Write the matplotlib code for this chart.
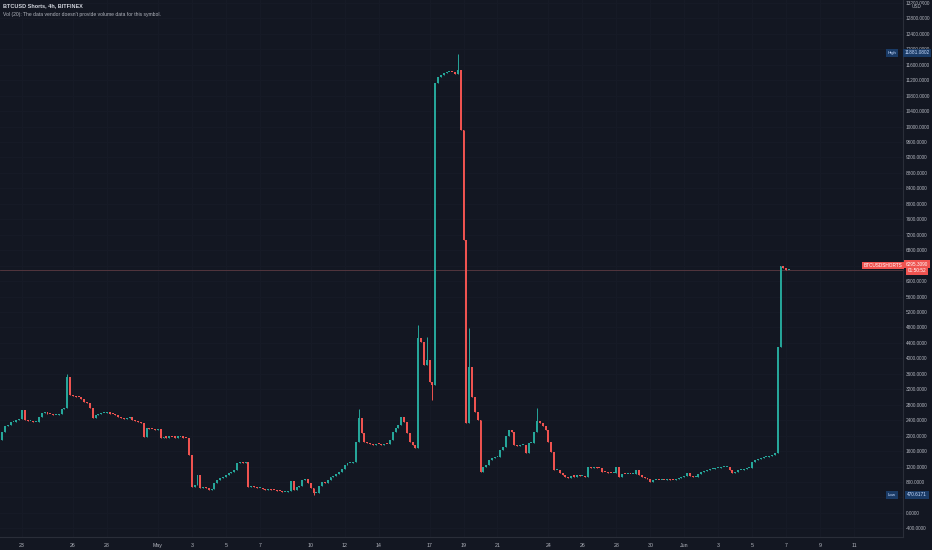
import matplotlib
matplotlib.use('Agg')
import matplotlib.pyplot as plt
import numpy as np

# ---------------- data (4h candles, BTCUSD Shorts) ----------------
# first candle: Apr 21 20:00 ; then 6 candles per day
first_open = 1890
closes = [
    2090,                                   # Apr 21 20:00
    2240, 2280, 2340, 2340, 2407, 2420,     # Apr 22
    2663, 2407, 2380, 2380, 2340, 2360,     # Apr 23
    2485, 2588, 2600, 2570, 2560, 2530,     # Apr 24
    2530, 2560, 2690, 2715, 3517, 3050,     # Apr 25
    3030, 3010, 2990, 2950, 2870, 2840,     # Apr 26
    2715, 2458, 2536, 2560, 2588, 2588,     # Apr 27
    2600, 2570, 2560, 2540, 2485, 2460,     # Apr 28
    2440, 2460, 2470, 2407, 2380, 2350,     # Apr 29
    2330, 1967, 2200, 2170, 2160, 2150,     # Apr 30
    2160, 1940, 1960, 1950, 1970, 1960,     # May 1
    1950, 1960, 1970, 1950, 1940, 1500,     # May 2
    674, 720, 984, 648, 674, 640,           # May 3
    600, 620, 780, 855, 905, 930,           # May 4
    984, 1020, 1060, 1100, 1295, 1320,      # May 5
    1300, 1320, 674, 700, 670, 640,         # May 6
    650, 620, 600, 620, 600, 580,           # May 7
    570, 560, 544, 544, 560, 826,           # May 8
    596, 674, 700, 855, 880, 777,           # May 9
    648, 518, 518, 700, 803, 780,           # May 10
    855, 930, 960, 1010, 1060, 1140,        # May 11
    1240, 1295, 1295, 1320, 1837, 2458,     # May 12
    2070, 1840, 1800, 1780, 1760, 1790,     # May 13
    1770, 1760, 1790, 1770, 1890, 2100,     # May 14
    2200, 2280, 2490, 2350, 2070, 1840,     # May 15
    1760, 1680, 4530, 4430, 3830, 3960,     # May 16
    3390, 3320, 11130, 11270, 11320, 11380, # May 17
    11400, 11420, 11400, 11360, 11460, 9910,  # May 18
    7060, 2330, 3780, 3000, 2620, 2410,     # May 19
    1060, 1190, 1250, 1370, 1425, 1450,     # May 20
    1450, 1630, 1710, 2000, 2150, 2100,     # May 21
    1760, 1740, 1750, 1760, 1550, 1810,     # May 22
    1810, 2100, 2380, 2330, 2250, 2150,     # May 23
    1840, 1580, 1110, 1110, 1040, 990,      # May 24
    930, 905, 960, 940, 985, 950,           # May 25
    960, 930, 1190, 1170, 1180, 1165,       # May 26
    1160, 1060, 1050, 1040, 1030, 1040,     # May 27
    1190, 930, 1010, 1000, 1010, 1000,      # May 28
    1010, 1110, 984, 920, 906, 880,         # May 29
    803, 850, 855, 840, 860, 850,           # May 30
    880, 855, 850, 870, 900, 930,           # May 31
    960, 1040, 960, 930, 940, 1000,         # Jun 1
    1060, 1080, 1110, 1130, 1140, 1150,     # Jun 2
    1160, 1180, 1190, 1190, 1113, 1035,     # Jun 3
    1060, 1110, 1110, 1140, 1165, 1165,     # Jun 4
    1320, 1370, 1390, 1420, 1440, 1450,     # Jun 5
    1480, 1500, 1550, 4300, 6400, 6350,     # Jun 6
    6290, 6295.309,                         # Jun 7
]
# notable wicks (candle index -> value)
wick_high_idx = [23, 126, 147, 150, 161, 165, 189]
wick_high_val = [3600, 2700, 4870, 4550, 11881.0802, 4790, 2720]
wick_low_idx = [110, 152]
wick_low_val = [470.6171, 2930]

# time axis labels (days after Apr 23)
x_tick_days = [0, 3, 5, 8, 10, 12, 14, 17, 19, 21, 24, 26, 28, 31, 33, 35,
               37, 39, 41, 43, 45, 47, 49]
x_tick_labels = ['23', '26', '28', 'May', '3', '5', '7', '10', '12', '14',
                 '17', '19', '21', '24', '26', '28', '30', 'Jun', '3', '5',
                 '7', '9', '11']

# price scale ticks hidden behind the last-price and low labels
hidden_price_ticks = [6400, 400]

last_price = 6295.309
high_val = 11881.0802
low_val = 470.6171

# ---------------- style ----------------
BG = '#131722'
UP = '#26a69a'
DOWN = '#ef5350'
TXT = '#b2b5be'
GRID = '#171b27'
plt.rcParams['font.family'] = ['Liberation Sans', 'DejaVu Sans']

W, H = 932, 550
fig = plt.figure(figsize=(W / 100, H / 100), dpi=100, facecolor=BG)
ax = fig.add_axes([0, 13 / H, 903 / W, 1 - 13 / H], facecolor=BG)

closes_a = np.array(closes, dtype=float)
n = len(closes_a)
t = -7 / 6 + np.arange(n) / 6.0
opens = np.r_[first_open, closes_a[:-1]]
highs = np.maximum(opens, closes_a)
lows = np.minimum(opens, closes_a)
for i, v in zip(wick_high_idx, wick_high_val):
    highs[i] = v
for i, v in zip(wick_low_idx, wick_low_val):
    lows[i] = v
up = closes_a >= opens
cols = np.where(up, UP, DOWN)

ax.vlines(t, lows, highs, colors=cols, lw=0.7, zorder=3)
body_lo = np.minimum(opens, closes_a)
body_h = np.maximum(np.abs(closes_a - opens), 28)
ax.bar(t, body_h, bottom=body_lo, width=0.115, color=cols, linewidth=0,
       zorder=4)

ax.set_xlim(-1.296, 51.88)
ax.set_ylim(-624, 13274)

ax.set_xticks(x_tick_days)
ax.set_xticklabels(x_tick_labels)
yt = np.arange(-400, 13201, 400)
ax.set_yticks(yt)
ax.set_yticklabels(['' if v in hidden_price_ticks else '%.4f' % v
                    for v in yt])
ax.yaxis.tick_right()
ax.grid(True, color=GRID, lw=0.6, zorder=0)
ax.tick_params(axis='both', length=0, colors=TXT)
ax.tick_params(axis='y', pad=2.2, labelsize=3.4)
ax.tick_params(axis='x', pad=4, labelsize=3.8)
for s in ['top', 'left']:
    ax.spines[s].set_visible(False)
for s in ['right', 'bottom']:
    ax.spines[s].set_color('#2a2e39')
    ax.spines[s].set_linewidth(0.8)

# last price line
ax.axhline(last_price, color='#5c3a42', lw=0.6, zorder=2)


def px(x, y):
    return x / W, 1 - y / H


# header texts
fig.text(*px(3, 6), 'BTCUSD Shorts, 4h, BITFINEX', color='#d1d4dc',
         fontsize=4.0, va='center', ha='left', fontweight='bold')
fig.text(*px(3, 14.5),
         "Vol (20): The data vendor doesn't provide volume data for this symbol.",
         color='#b2b5be', fontsize=3.6, va='center', ha='left')
fig.text(*px(917, 7), 'USD', color=TXT, fontsize=3.4, va='center',
         ha='center', bbox=dict(boxstyle='square,pad=0.15', fc=BG, ec='none'))

# last price labels
fig.text(*px(883, 265.5), 'BTCUSDSHORTS', color='white', fontsize=3.4,
         va='center', ha='center',
         bbox=dict(boxstyle='square,pad=0.3', fc=DOWN, ec='none'))
fig.text(*px(917, 264), '%.4f' % last_price, color='white', fontsize=3.4,
         va='center', ha='center',
         bbox=dict(boxstyle='square,pad=0.35', fc=DOWN, ec='none'))
fig.text(*px(917, 271), '01:50:52', color='white', fontsize=3.4,
         va='center', ha='center',
         bbox=dict(boxstyle='square,pad=0.35', fc=DOWN, ec='none'))

# high / low labels
for y, name, val in [(53, 'High', high_val), (495, 'Low', low_val)]:
    fig.text(*px(892, y), name, color='#c8dcff', fontsize=3.2, va='center',
             ha='center',
             bbox=dict(boxstyle='square,pad=0.35', fc='#1a3b66', ec='none'))
    fig.text(*px(917, y), '%.4f' % val, color='#c8dcff', fontsize=3.4,
             va='center', ha='center',
             bbox=dict(boxstyle='square,pad=0.35', fc='#1a3b66', ec='none'))

fig.savefig('out.png', dpi=100, facecolor=BG)
